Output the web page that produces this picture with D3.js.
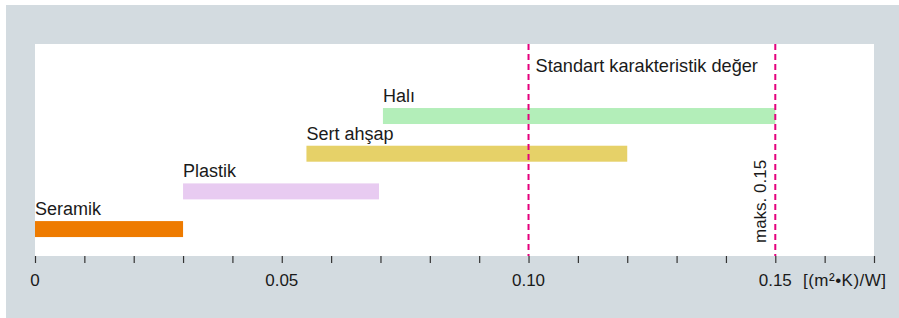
<!DOCTYPE html>
<html><head><meta charset="utf-8">
<script src="https://cdn.jsdelivr.net/npm/d3@7"></script>
<style>
html,body{margin:0;padding:0;background:#fff;}
svg{display:block;font-family:"Liberation Sans",Arial,Helvetica,sans-serif;}
</style></head>
<body>
<svg id="chart" width="899" height="318"></svg>
<script>
const categories = ["Seramik", "Plastik", "Sert ahşap", "Halı"];
const startValues = [0, 0.03, 0.055, 0.0705];
const endValues = [0.03, 0.0697, 0.12, 0.15];
const barColors = ["#ee7b00", "#e8cbf1", "#e6d168", "#b3eeb9"];
const tickValues = [0, 0.01, 0.02, 0.03, 0.04, 0.05, 0.06, 0.07, 0.08, 0.09, 0.10, 0.11, 0.12, 0.13, 0.14, 0.15, 0.16, 0.17];
const labeledTicks = [0, 0.05, 0.10, 0.15];
const tickLabelText = ["0", "0.05", "0.10", "0.15"];
const refLines = [0.10, 0.15];
const refLabel = "Standart karakteristik değer";
const maxLabel = "maks. 0.15";
const unitLabel = "[(m²•K)/W]";

const svg = d3.select("#chart");
svg.append("rect").attr("x", 6).attr("y", 5).attr("width", 893).attr("height", 313).attr("fill", "#d3dbe0");

const plotL = 35, plotR = 874, plotT = 44, plotB = 256;
svg.append("rect").attr("x", plotL).attr("y", plotT).attr("width", plotR - plotL).attr("height", plotB - plotT).attr("fill", "#fff");

const x = d3.scaleLinear().domain([0, 0.17]).range([plotL, plotR]);
const y = d3.scaleBand().domain(categories.slice().reverse()).range([89.2, 255.9]).paddingInner(0.576).paddingOuter(0.5);

// axis ticks
const axis = d3.axisBottom(x).tickValues(tickValues).tickSize(7).tickFormat("");
const ag = svg.append("g").attr("transform", `translate(0,${plotB})`).call(axis);
ag.select(".domain").remove();
ag.selectAll(".tick line").attr("stroke", "#333").attr("stroke-width", 1.2);

svg.selectAll(".tlab").data(labeledTicks).enter().append("text")
  .attr("x", d => x(d)).attr("y", 286).attr("text-anchor", "middle")
  .attr("font-size", 17).attr("fill", "#1a1a1a")
  .text((d, i) => tickLabelText[i]);

svg.append("text").attr("x", 803).attr("y", 286).attr("font-size", 17).attr("fill", "#1a1a1a")
  .attr("textLength", 83).text(unitLabel);

// bars
svg.selectAll(".bar").data(categories).enter().append("rect")
  .attr("x", (d, i) => x(startValues[i]))
  .attr("y", d => y(d))
  .attr("width", (d, i) => x(endValues[i]) - x(startValues[i]))
  .attr("height", y.bandwidth())
  .attr("fill", (d, i) => barColors[i]);

svg.selectAll(".blab").data(categories).enter().append("text")
  .attr("x", (d, i) => x(startValues[i]))
  .attr("y", d => y(d) - 6)
  .attr("font-size", 18).attr("fill", "#1a1a1a")
  .text(d => d);

// reference lines
svg.selectAll(".ref").data(refLines).enter().append("line")
  .attr("x1", d => x(d)).attr("x2", d => x(d))
  .attr("y1", plotT).attr("y2", plotB)
  .attr("stroke", "#e5007d").attr("stroke-width", 2).attr("stroke-dasharray", "6,4");

svg.append("text").attr("x", x(0.10) + 7).attr("y", 72).attr("font-size", 18.2).attr("fill", "#1a1a1a").text(refLabel);

svg.append("text").attr("transform", `translate(${x(0.15) - 9},243) rotate(-90)`)
  .attr("font-size", 17).attr("fill", "#1a1a1a").text(maxLabel);
</script>
</body></html>
